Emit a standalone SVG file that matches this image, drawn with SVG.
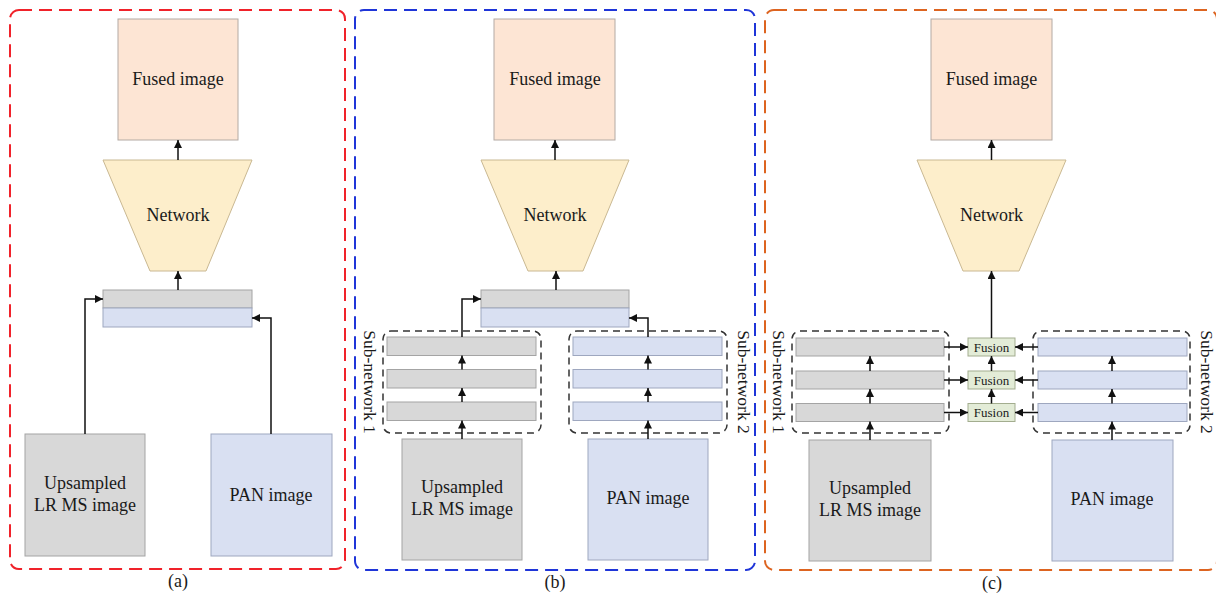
<svg xmlns="http://www.w3.org/2000/svg" width="1216" height="596" viewBox="0 0 1216 596" font-family="'Liberation Serif', 'Times New Roman', serif">
<defs>
<marker id="ah" viewBox="0 0 10 10" refX="10" refY="5" markerWidth="8" markerHeight="8" markerUnits="userSpaceOnUse" orient="auto"><path d="M0,0 L10,5 L0,10 z" fill="#111"/></marker>
<style>
text{fill:#1a1a1a}
.lbl{font-size:18px;text-anchor:middle}
.sub{font-size:17.5px;text-anchor:middle}
.fus{font-size:13px;text-anchor:middle}
.fused{fill:#fde5d4;stroke:#b3aaa4;stroke-width:1}
.net{fill:#fdeecb;stroke:#c9b892;stroke-width:1}
.gray{fill:#d8d8d8;stroke:#a4a4a4;stroke-width:1}
.blue{fill:#d9e0f2;stroke:#9ea7bf;stroke-width:1}
.fbox{fill:#e3ecd7;stroke:#a3ad8f;stroke-width:1}
.panel{fill:none;stroke-width:2;stroke-dasharray:13 7}
.sn{fill:none;stroke:#333;stroke-width:1.5;stroke-dasharray:7 5}
.c{fill:none;stroke:#111;stroke-width:1.5;marker-end:url(#ah)}
</style>
</defs>
<g id="panels">
<rect x="10" y="10" width="335" height="559" rx="9" class="panel" stroke="#f0222a"/>
<rect x="355" y="10" width="400" height="560" rx="9" class="panel" stroke="#1f35d8"/>
<rect x="765" y="10" width="452" height="560" rx="9" class="panel" stroke="#dd6420"/>
</g>
<g id="panel-a">
<g id="a-fused"><rect x="118" y="19" width="120" height="121" class="fused"/><text x="178" y="85" class="lbl">Fused image</text></g>
<g id="a-network"><polygon points="103,160 252,160 206,271 150,271" class="net"/><text x="178" y="221" class="lbl">Network</text></g>
<g id="a-concat"><rect x="103" y="290" width="149" height="18" class="gray"/><rect x="103" y="308" width="149" height="19" class="blue"/></g>
<g id="a-ms"><rect x="25" y="434" width="120" height="122" class="gray"/><text x="85" y="489" class="lbl">Upsampled</text><text x="85" y="511" class="lbl">LR MS image</text></g>
<g id="a-pan"><rect x="211" y="434" width="121" height="122" class="blue"/><text x="271" y="501" class="lbl">PAN image</text></g>
<text x="178" y="587" class="lbl">(a)</text>
</g>
<g id="panel-b">
<g id="b-fused"><rect x="494" y="19" width="121" height="121" class="fused"/><text x="555" y="85" class="lbl">Fused image</text></g>
<g id="b-network"><polygon points="481,160 629,160 583,271 528,271" class="net"/><text x="555" y="221" class="lbl">Network</text></g>
<g id="b-concat"><rect x="481" y="290" width="148" height="18" class="gray"/><rect x="481" y="308" width="148" height="19" class="blue"/></g>
<g id="b-sub1"><rect x="383" y="331" width="158" height="102" rx="8" class="sn"/>
<rect x="387" y="337" width="149" height="18.5" class="gray"/><rect x="387" y="369.5" width="149" height="18.5" class="gray"/><rect x="387" y="402" width="149" height="18.5" class="gray"/>
<text transform="translate(364,382) rotate(90)" class="sub">Sub-network 1</text></g>
<g id="b-sub2"><rect x="569" y="331" width="158" height="102" rx="8" class="sn"/>
<rect x="573" y="337" width="149" height="18.5" class="blue"/><rect x="573" y="369.5" width="149" height="18.5" class="blue"/><rect x="573" y="402" width="149" height="18.5" class="blue"/>
<text transform="translate(738,382) rotate(90)" class="sub">Sub-network 2</text></g>
<g id="b-ms"><rect x="402" y="439" width="120" height="121" class="gray"/><text x="462" y="493" class="lbl">Upsampled</text><text x="462" y="515" class="lbl">LR MS image</text></g>
<g id="b-pan"><rect x="588" y="439" width="120" height="121" class="blue"/><text x="648" y="504" class="lbl">PAN image</text></g>
<text x="555" y="588" class="lbl">(b)</text>
</g>
<g id="panel-c">
<g id="c-fused"><rect x="931" y="19" width="121" height="121" class="fused"/><text x="991.5" y="85" class="lbl">Fused image</text></g>
<g id="c-network"><polygon points="917,160 1066,160 1019,271 963,271" class="net"/><text x="991.5" y="221" class="lbl">Network</text></g>
<g id="c-sub1"><rect x="792" y="331" width="157" height="102" rx="8" class="sn"/>
<rect x="796" y="338" width="148" height="18" class="gray"/><rect x="796" y="371" width="148" height="18" class="gray"/><rect x="796" y="403.5" width="148" height="18" class="gray"/>
<text transform="translate(773,382) rotate(90)" class="sub">Sub-network 1</text></g>
<g id="c-sub2"><rect x="1033" y="331" width="157" height="102" rx="8" class="sn"/>
<rect x="1038" y="338" width="149" height="18" class="blue"/><rect x="1038" y="371" width="149" height="18" class="blue"/><rect x="1038" y="403.5" width="149" height="18" class="blue"/>
<text transform="translate(1201,382) rotate(90)" class="sub">Sub-network 2</text></g>
<g id="c-fusion1"><rect x="968" y="338" width="47" height="18" class="fbox"/><text x="991.5" y="351.5" class="fus">Fusion</text></g>
<g id="c-fusion2"><rect x="968" y="371" width="47" height="18" class="fbox"/><text x="991.5" y="384.5" class="fus">Fusion</text></g>
<g id="c-fusion3"><rect x="968" y="403.5" width="47" height="18" class="fbox"/><text x="991.5" y="417" class="fus">Fusion</text></g>
<g id="c-ms"><rect x="809" y="440" width="122" height="121" class="gray"/><text x="870" y="494" class="lbl">Upsampled</text><text x="870" y="516" class="lbl">LR MS image</text></g>
<g id="c-pan"><rect x="1052" y="440" width="121" height="121" class="blue"/><text x="1112" y="505" class="lbl">PAN image</text></g>
<text x="992" y="589" class="lbl">(c)</text>
</g>
<g id="connectors">
<path d="M178,160 V140" class="c"/>
<path d="M178,290 V271" class="c"/>
<path d="M85,434 V299 H103" class="c"/>
<path d="M271,434 V318 H252" class="c"/>
<path d="M555,160 V140" class="c"/>
<path d="M556,290 V271" class="c"/>
<path d="M462,337 V299 H481" class="c"/>
<path d="M648,337 V318 H629" class="c"/>
<path d="M462,439 V420.5" class="c"/>
<path d="M462,402 V388" class="c"/>
<path d="M462,369.5 V355.5" class="c"/>
<path d="M648,439 V420.5" class="c"/>
<path d="M648,402 V388" class="c"/>
<path d="M648,369.5 V355.5" class="c"/>
<path d="M991.5,160 V140" class="c"/>
<path d="M991.5,338 V271" class="c"/>
<path d="M991.5,403.5 V389" class="c"/>
<path d="M991.5,371 V356" class="c"/>
<path d="M870,440 V421.5" class="c"/>
<path d="M870,403.5 V389" class="c"/>
<path d="M870,371 V356" class="c"/>
<path d="M1112,440 V421.5" class="c"/>
<path d="M1112,403.5 V389" class="c"/>
<path d="M1112,371 V356" class="c"/>
<path d="M944,347 H968" class="c"/>
<path d="M944,380 H968" class="c"/>
<path d="M944,412.5 H968" class="c"/>
<path d="M1038,347 H1015" class="c"/>
<path d="M1038,380 H1015" class="c"/>
<path d="M1038,412.5 H1015" class="c"/>
</g>
</svg>
